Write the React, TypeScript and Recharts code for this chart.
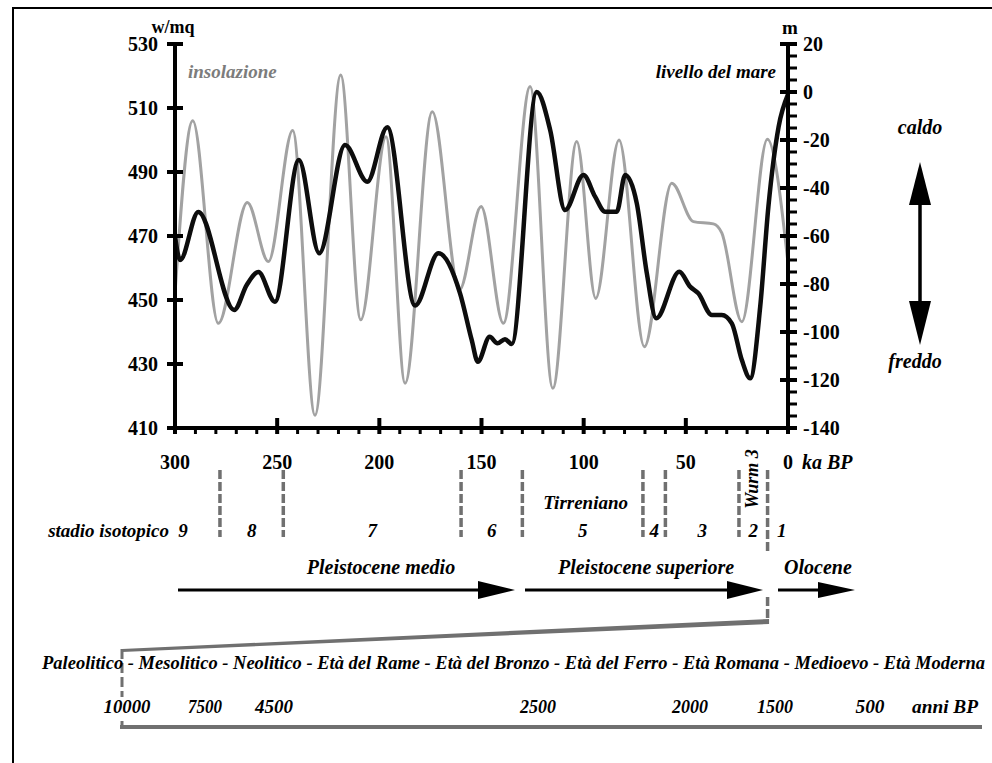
import React from 'react'
import { LineChart, Line, XAxis, YAxis, ReferenceLine } from 'recharts'

// insolazione (w/mq) against ka BP
const insolKa = [300, 291.3, 278.8, 264.6, 254.3, 242.4, 231.5, 218.9, 209.1, 196.7, 187.4, 174.1, 160.8, 150.2, 139.3, 126.2, 115.1, 103.4, 94.1, 82.7, 70.3, 56.9, 46.3, 36.5, 32.4, 22.6, 10.1, 0]
const insolW = [452, 506, 442.7, 480.5, 462, 503, 414, 520.3, 443.8, 501, 424, 508.8, 453.1, 479.2, 442.7, 516.7, 422.4, 499.5, 450.5, 500, 435.4, 486.5, 474.5, 473.8, 471, 443.2, 500.2, 461.5]

// livello del mare (m) against ka BP
const seaKa = [300, 297.5, 288.6, 271, 264.9, 259.2, 251.1, 239.4, 229.4, 216.8, 205.9, 196.1, 182.5, 171.1, 160.5, 154.8, 151.8, 146, 142.2, 138.5, 135.2, 123, 116.4, 109.1, 100.1, 94.4, 89.5, 83.8, 79.7, 74, 69.1, 64.5, 53.2, 47.9, 43.9, 37.3, 32.4, 27.5, 22.6, 18.5, 13.6, 9.6, 4.6, 0]
const seaM = [-60, -70, -50, -90.8, -80.4, -75, -87.4, -28.3, -67.2, -22.1, -37.4, -14.7, -89, -67.2, -83.9, -103.3, -112.4, -102, -104.7, -103, -105, 0, -15.8, -49.2, -34.6, -43.6, -49.9, -49.9, -34.6, -46.4, -75.5, -94.3, -74.9, -81.1, -83.9, -92.9, -92.9, -96.4, -111.7, -119.3, -89.4, -47.8, -14.5, -1]

const kaTicks = [0, 10, 20, 30, 40, 50, 60, 70, 80, 90, 100, 110, 120, 130, 140, 150, 160, 170, 180, 190, 200, 210, 220, 230, 240, 250, 260, 270, 280, 290, 300]
const wTicks = [410, 430, 450, 470, 490, 510, 530]
const mTicks = [-140, -135, -130, -125, -120, -115, -110, -105, -100, -95, -90, -85, -80, -75, -70, -65, -60, -55, -50, -45, -40, -35, -30, -25, -20, -15, -10, -5, 0, 5, 10, 15, 20]

// stadi isotopici: limiti in ka BP
const stageEdges = [300, 278, 247, 160, 130, 71, 60, 24, 10, 0]
const stageNames = ['9', '8', '7', '6', '5', '4', '3', '2', '1']

const eraText = 'Paleolitico - Mesolitico - Neolitico - Età del Rame - Età del Bronzo - Età del Ferro - Età Romana - Medioevo - Età Moderna'
const eraYears = ['10000', '7500', '4500', '2500', '2000', '1500', '500', 'anni BP']
// layout of the lower strip (pixels)
const eraYearX = [127, 205, 274, 538, 690, 775, 870, 945]
const eraYearW = [47, 34, 38, 36, 36, 36, 29, 66]

const insolData = insolKa.map((t, i) => ({ t, w: insolW[i] }))
const seaData = seaKa.map((t, i) => ({ t, m: seaM[i] }))

const FONT = "'Liberation Serif', 'Times New Roman', serif"
const DASH = '#707070'

const LeftTick = (p: any) => {
  const { x, y, payload } = p
  return (
    <g>
      <line x1={x - 8} x2={x + 8} y1={y} y2={y} stroke="#000" strokeWidth={4} />
      <text x={x - 17} y={y} dy="0.36em" textAnchor="end" fontFamily={FONT} fontWeight="bold" fontSize={20} fill="#000">
        {payload.value}
      </text>
    </g>
  )
}

const RightTick = (p: any) => {
  const { x, y, payload } = p
  const major = payload.value % 20 === 0
  return (
    <g>
      <line x1={major ? x - 8 : x} x2={x + 9} y1={y} y2={y} stroke="#000" strokeWidth={major ? 4 : 3} />
      {major && (
        <text x={x + 15} y={y} dy="0.36em" textAnchor="start" fontFamily={FONT} fontWeight="bold" fontSize={20} fill="#000">
          {payload.value}
        </text>
      )}
    </g>
  )
}

const BottomTick = (p: any) => {
  const { x, y, payload } = p
  const major = payload.value % 50 === 0
  return (
    <g>
      <line x1={x} x2={x} y1={major ? y - 10 : y} y2={y + 6} stroke="#000" strokeWidth={major ? 4 : 3} />
      {major && (
        <text x={x} y={y + 41} textAnchor="middle" fontFamily={FONT} fontWeight="bold" fontSize={20} fill="#000">
          {payload.value}
        </text>
      )}
    </g>
  )
}

const labelStyle = { fontFamily: FONT, fontWeight: 'bold' as const, fontStyle: 'italic' as const }

const stageDash = (zoomLink: boolean) => (p: any) => {
  const x = p.x1
  return (
    <g>
      <line x1={x} x2={x} y1={470} y2={zoomLink ? 553 : 537} stroke={DASH} strokeWidth={3.5} strokeDasharray="9 3" />
      {zoomLink && (
        <g>
          <line x1={x} x2={x} y1={597} y2={621} stroke={DASH} strokeWidth={3.5} strokeDasharray="9 3" />
          <polygon points={`${x + 1.5},619 ${x + 1.5},624 122,652 122,649`} fill={DASH} />
          <line x1={122} x2={122} y1={649} y2={697} stroke={DASH} strokeWidth={3} strokeDasharray="10 4" />
        </g>
      )}
    </g>
  )
}

const textAt = (txt: string, y: number, size: number, dx = 0) => (p: any) => (
  <text x={p.x1 + dx} y={y} textAnchor="middle" fontSize={size} fill="#000" {...labelStyle}>
    {txt}
  </text>
)

export default function App() {
  return (
    <div style={{ position: 'absolute', left: 0, top: 0, width: 992, height: 763, background: '#fff' }}>
      <LineChart width={992} height={763} margin={{ top: 44, right: 0, bottom: 305, left: 0 }}>
        <XAxis
          dataKey="t"
          type="number"
          domain={[0, 300]}
          reversed
          ticks={kaTicks}
          interval={0}
          height={30}
          tickSize={0}
          tickMargin={0}
          tickLine={false}
          axisLine={{ stroke: '#000', strokeWidth: 4 }}
          tick={(p: any) => <BottomTick {...p} />}
        />
        <YAxis
          yAxisId="l"
          domain={[410, 530]}
          ticks={wTicks}
          interval={0}
          width={175}
          tickSize={0}
          tickMargin={0}
          tickLine={false}
          axisLine={{ stroke: '#000', strokeWidth: 4 }}
          tick={(p: any) => <LeftTick {...p} />}
        />
        <YAxis
          yAxisId="r"
          orientation="right"
          domain={[-140, 20]}
          ticks={mTicks}
          interval={0}
          width={204}
          tickSize={0}
          tickMargin={0}
          tickLine={false}
          axisLine={{ stroke: '#000', strokeWidth: 4 }}
          tick={(p: any) => <RightTick {...p} />}
        />
        <Line
          yAxisId="l"
          data={insolData}
          dataKey="w"
          type="monotone"
          stroke="#a2a2a2"
          strokeWidth={3}
          dot={false}
          activeDot={false}
          isAnimationActive={false}
        />
        <Line
          yAxisId="r"
          data={seaData}
          dataKey="m"
          type="monotone"
          stroke="#0d0d0d"
          strokeWidth={4.5}
          dot={false}
          activeDot={false}
          isAnimationActive={false}
        />
        {stageEdges.slice(1, -1).map((b) => (
          <ReferenceLine key={'edge' + b} x={b} yAxisId="l" shape={stageDash(b === 10)} />
        ))}
        {stageNames.slice(1).map((s, i) => (
          <ReferenceLine
            key={'st' + s}
            x={(stageEdges[i + 1] + stageEdges[i + 2]) / 2}
            yAxisId="l"
            shape={textAt(s, 537, 19, s === '1' ? 4 : 0)}
          />
        ))}
        <ReferenceLine x={(stageEdges[4] + stageEdges[5]) / 2} yAxisId="l" shape={textAt('Tirreniano', 509, 19, 3)} />
        <ReferenceLine
          x={(stageEdges[7] + stageEdges[8]) / 2}
          yAxisId="l"
          shape={(p: any) => (
            <text transform={`translate(${p.x1 + 5},479) rotate(-90)`} textAnchor="middle" fontSize={18} fill="#000" {...labelStyle}>
              Wurm 3
            </text>
          )}
        />
      </LineChart>

      <svg width={992} height={763} style={{ position: 'absolute', left: 0, top: 0, pointerEvents: 'none' }}>
        <line x1={12} x2={992} y1={8} y2={8} stroke="#000" strokeWidth={2} />
        <line x1={13} x2={13} y1={8} y2={763} stroke="#000" strokeWidth={2} />

        <text x={173} y={33} textAnchor="middle" fontFamily={FONT} fontWeight="bold" fontSize={18}>w/mq</text>
        <text x={790} y={34} textAnchor="middle" fontFamily={FONT} fontWeight="bold" fontSize={19}>m</text>
        <text x={188} y={78} fontSize={19} fill="#7c7c7c" {...labelStyle}>insolazione</text>
        <text x={776} y={78} textAnchor="end" fontSize={19} fill="#000" {...labelStyle}>livello del mare</text>
        <text x={802} y={469} fontSize={20} fill="#000" {...labelStyle}>ka BP</text>

        <text x={920} y={134} textAnchor="middle" fontSize={20} fill="#000" {...labelStyle}>caldo</text>
        <text x={915} y={368} textAnchor="middle" fontSize={20} fill="#000" {...labelStyle}>freddo</text>
        <line x1={920} x2={920} y1={200} y2={306} stroke="#000" strokeWidth={3.5} />
        <polygon points="909,205 920,162 931,205" fill="#000" />
        <polygon points="909,301 920,345 931,301" fill="#000" />

        <text x={169} y={537} textAnchor="end" fontSize={19} fill="#000" {...labelStyle}>stadio isotopico</text>
        <text x={183} y={537} textAnchor="middle" fontSize={19} fill="#000" {...labelStyle}>9</text>

        <text x={381} y={574} textAnchor="middle" fontSize={20} fill="#000" {...labelStyle}>Pleistocene medio</text>
        <line x1={178} x2={482} y1={590} y2={590} stroke="#000" strokeWidth={3} />
        <polygon points="478,581 515,590 478,599" fill="#000" />
        <text x={646} y={574} textAnchor="middle" fontSize={20} fill="#000" {...labelStyle}>Pleistocene superiore</text>
        <line x1={525} x2={730} y1={590} y2={590} stroke="#000" strokeWidth={3} />
        <polygon points="727,581 763,590 727,599" fill="#000" />
        <text x={818} y={574} textAnchor="middle" fontSize={20} fill="#000" {...labelStyle}>Olocene</text>
        <line x1={778} x2={821} y1={590} y2={590} stroke="#000" strokeWidth={3} />
        <polygon points="818,582 855,590 818,598" fill="#000" />

        <text x={42} y={669} fontSize={18} fill="#000" textLength={943} lengthAdjust="spacingAndGlyphs" {...labelStyle}>
          {eraText}
        </text>
        {eraYears.map((y, i) => (
          <text
            key={y}
            x={eraYearX[i] - eraYearW[i] / 2}
            y={713}
            fontSize={19}
            fill="#000"
            textLength={eraYearW[i]}
            lengthAdjust="spacingAndGlyphs"
            {...labelStyle}
          >
            {y}
          </text>
        ))}
        <line x1={120} x2={982} y1={727} y2={727} stroke={DASH} strokeWidth={4} />
        <line x1={122} x2={122} y1={721} y2={729} stroke={DASH} strokeWidth={3} />
      </svg>
    </div>
  )
}
